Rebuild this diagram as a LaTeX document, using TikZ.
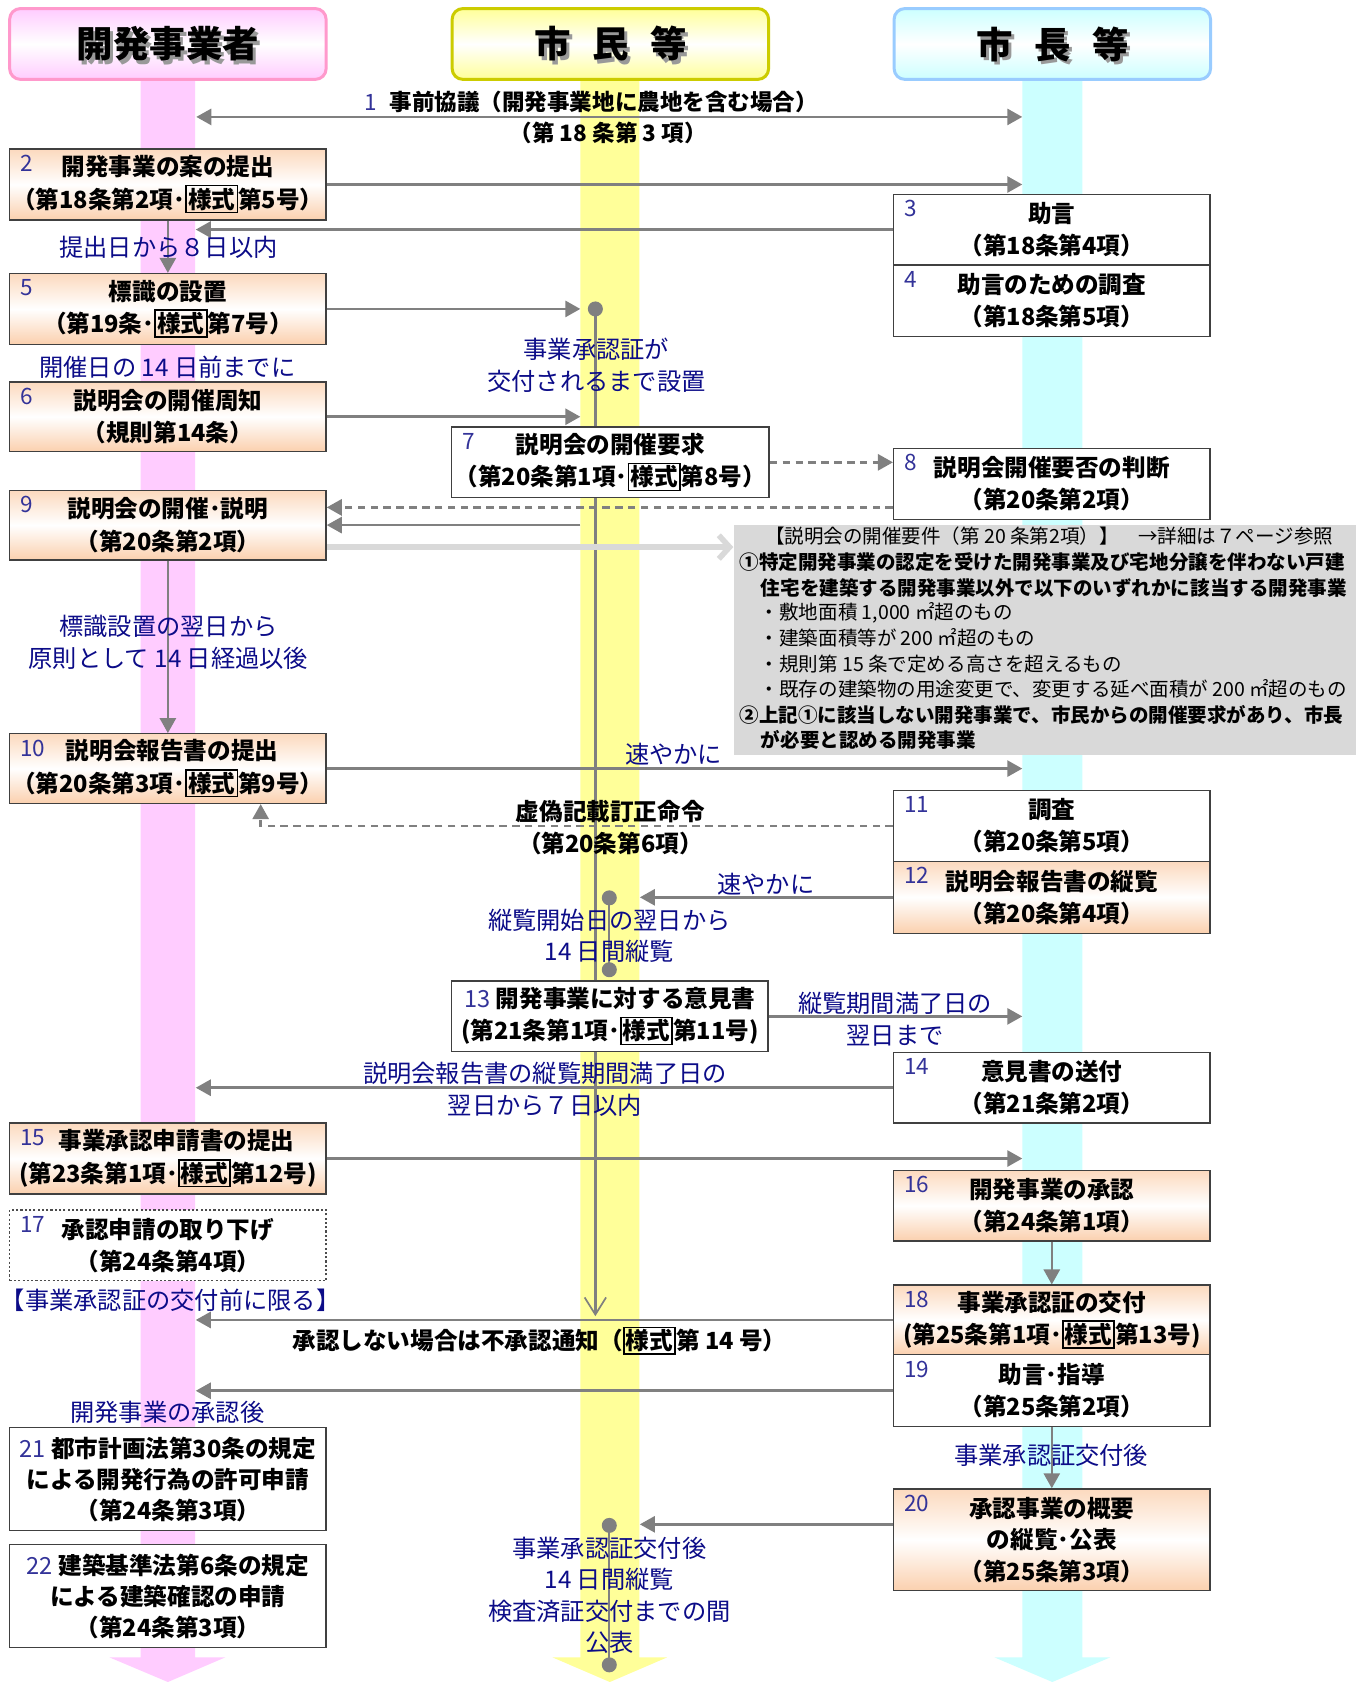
\documentclass[tikz,border=0pt]{standalone}
\usepackage{fontspec}
\setmainfont{Noto Sans CJK JP}
\usetikzlibrary{arrows.meta}
\definecolor{lanepink}{HTML}{FFCCFF}
\definecolor{laneyel}{HTML}{FFFF99}
\definecolor{lanecyan}{HTML}{CCFFFF}
\definecolor{bdpink}{HTML}{FF99CC}
\definecolor{bdyel}{HTML}{CCCC00}
\definecolor{bdcyan}{HTML}{99CCFF}
\definecolor{peach}{HTML}{FBD0AE}
\definecolor{arrgray}{HTML}{808080}
\definecolor{lblblue}{HTML}{0C0C88}
\definecolor{numblue}{HTML}{333399}
\definecolor{infogray}{HTML}{D9D9D9}
\setlength{\fboxsep}{0.6pt}
\setlength{\fboxrule}{0.8pt}
\newcommand{\ysk}{\fbox{様式}}
\newcommand{\nb}[1]{{\color{numblue}\mdseries #1}}
\pgfdeclarelayer{lanes}
\pgfdeclarelayer{links}
\pgfsetlayers{lanes,links,main}
\begin{document}
\begin{tikzpicture}[x=0.5pt,y=-0.5pt,
  hdr/.style={line width=1.4pt, rounded corners=5pt, minimum width=147.5pt, minimum height=33pt, inner sep=0pt},
  hdrtxt/.style={font=\fontsize{17}{20}\selectfont\bfseries, inner sep=0pt},
  bx/.style={draw=black!75, line width=0.6pt, minimum width=147.5pt, minimum height=33pt, inner sep=0pt, align=center, font=\fontsize{11}{15}\selectfont\bfseries},
  pbx/.style={bx, top color=peach!80!white, bottom color=peach, middle color=white},
  wbx/.style={bx, fill=white},
  num/.style={anchor=north west, text=numblue, font=\fontsize{10.5}{12}\selectfont, inner sep=0pt},
  conn/.style={draw=arrgray, line width=1.2pt, -{Triangle[length=7pt,width=7.5pt]}},
  conn2/.style={draw=arrgray, line width=1.2pt, {Triangle[length=7pt,width=7.5pt]}-{Triangle[length=7pt,width=7.5pt]}},
  dconn/.style={conn, dash pattern=on 3.5pt off 2.5pt},
  plain/.style={draw=arrgray, line width=1.1pt},
  lbl/.style={text=lblblue, font=\fontsize{11.3}{15}\selectfont, align=center, inner sep=0pt},
  blk/.style={font=\fontsize{11}{15}\selectfont\bfseries, align=center, inner sep=0pt},
  dotn/.style={circle, fill=arrgray, minimum size=7pt, inner sep=0pt},
  infol/.style={anchor=west, inner sep=0pt, font=\fontsize{9.1}{11}\selectfont},
  infob/.style={infol, font=\fontsize{9.1}{11}\selectfont\bfseries},
]
\useasboundingbox (0,0) rectangle (1274,1568);
\begin{pgfonlayer}{lanes}
\fill[white] (0,0) rectangle (1274,1568);
\fill[lanepink] (131,60) -- (131,1545) -- (102,1545) -- (156.5,1568) -- (210,1545) -- (182,1545) -- (182,60) -- cycle;
\fill[laneyel] (541,60) -- (541,1545) -- (515,1545) -- (568.5,1568) -- (622,1545) -- (596,1545) -- (596,60) -- cycle;
\fill[lanecyan] (953,60) -- (953,1545) -- (927,1545) -- (981,1568) -- (1035,1545) -- (1009,1545) -- (1009,60) -- cycle;
\end{pgfonlayer}

% headers
\node[hdr, draw=bdpink, top color=lanepink, bottom color=lanepink, middle color=white] (h1) at (156.5,41) {};
\node[hdr, draw=bdyel, top color=laneyel, bottom color=laneyel, middle color=white] (h2) at (569,41) {};
\node[hdr, draw=bdcyan, top color=lanecyan, bottom color=lanecyan, middle color=white] (h3) at (981,41) {};
\node[hdrtxt, text=black!40] (h1s) at ([xshift=1.5pt,yshift=-1.5pt]h1.center) {開発事業者};
\node[hdrtxt] (h1t) at (h1.center) {開発事業者};
\node[hdrtxt, text=black!40] (h2s) at ([xshift=1.5pt,yshift=-1.5pt]h2.center) {市\hspace{10pt}民\hspace{10pt}等};
\node[hdrtxt] (h2t) at (h2.center) {市\hspace{10pt}民\hspace{10pt}等};
\node[hdrtxt, text=black!40] (h3s) at ([xshift=1.5pt,yshift=-1.5pt]h3.center) {市\hspace{10pt}長\hspace{10pt}等};
\node[hdrtxt] (h3t) at (h3.center) {市\hspace{10pt}長\hspace{10pt}等};

% left column
\node[pbx] (b2) at (156.5,172) {開発事業の案の提出\\（第18条第2項･\ysk 第5号）};
\node[pbx] (b5) at (156.5,288) {標識の設置\\（第19条･\ysk 第7号）};
\node[pbx, minimum height=32.5pt] (b6) at (156.5,388.5) {説明会の開催周知\\（規則第14条）};
\node[pbx, minimum height=32.5pt] (b9) at (156.5,489.5) {説明会の開催･説明\\（第20条第2項）};
\node[pbx, minimum height=32.5pt] (b10) at (156.5,716.5) {\hspace*{4pt}説明会報告書の提出\\（第20条第3項･\ysk 第9号）};
\node[pbx] (b15) at (156.5,1080) {\hspace*{8pt}事業承認申請書の提出\\(第23条第1項･\ysk 第12号)};
\node[bx, fill=white, draw=black!70, dash pattern=on 1pt off 1pt] (b17) at (156.5,1161) {承認申請の取り下げ\\（第24条第4項）};
\node[wbx, minimum height=48pt, font=\fontsize{11}{14.5}\selectfont\bfseries] (b21) at (156.5,1379) {\nb{21} 都市計画法第30条の規定\\による開発行為の許可申請\\（第24条第3項）};
\node[wbx, minimum height=48pt, font=\fontsize{11}{14.5}\selectfont\bfseries] (b22) at (156.5,1488) {\nb{22} 建築基準法第6条の規定\\による建築確認の申請\\（第24条第3項）};

% middle column
\node[wbx, minimum width=148pt] (b7) at (569,431) {説明会の開催要求\\（第20条第1項･\ysk 第8号）};
\node[wbx] (b13) at (568.5,947.5) {\nb{13} 開発事業に対する意見書\\(第21条第1項･\ysk 第11号)};

% right column
\node[wbx] (b3) at (980.5,214) {助言\\（第18条第4項）};
\node[wbx, minimum height=33.5pt] (b4) at (980.5,280.5) {助言のための調査\\（第18条第5項）};
\node[wbx] (b8) at (980.5,451) {説明会開催要否の判断\\（第20条第2項）};
\node[wbx] (b11) at (980.5,770) {調査\\（第20条第5項）};
\node[pbx, minimum height=33.5pt] (b12) at (980.5,836.5) {説明会報告書の縦覧\\（第20条第4項）};
\node[wbx] (b14) at (980.5,1014) {意見書の送付\\（第21条第2項）};
\node[pbx] (b16) at (980.5,1124) {開発事業の承認\\（第24条第1項）};
\node[pbx, minimum height=32.5pt] (b18) at (980.5,1230.5) {事業承認証の交付\\(第25条第1項･\ysk 第13号)};
\node[wbx, minimum height=33.5pt] (b19) at (980.5,1296.5) {助言･指導\\（第25条第2項）};
\node[pbx, minimum height=47.5pt, font=\fontsize{11}{14.75}\selectfont\bfseries] (b20) at (980.5,1435.5) {承認事業の概要\\の縦覧･公表\\（第25条第3項）};

% numbers
\foreach \b/\t in {b2/2,b5/5,b6/6,b9/9,b10/10,b15/15,b17/17,b7/7,b3/3,b4/4,b8/8,b11/11,b12/12,b14/14,b16/16,b18/18,b19/19,b20/20}{
  \node[num] (n\t) at ([xshift=5pt,yshift=-3pt]\b.north west) {\t};
}

% info box
\node[fill=infogray, minimum width=290pt, minimum height=107.5pt, inner sep=0pt] (gbox) at (974,596.5) {};
\node[infol, anchor=center] (g1) at (978,500) {【説明会の開催要件（第 20 条第2項）】　→詳細は７ページ参照};
\node[infob] (g2) at (689,524) {①特定開発事業の認定を受けた開発事業及び宅地分譲を伴わない戸建};
\node[infob] (g3) at (709,548) {住宅を建築する開発事業以外で以下のいずれかに該当する開発事業};
\node[infol] (g4) at (708,571) {・敷地面積 1,000 ㎡超のもの};
\node[infol] (g5) at (708,595) {・建築面積等が 200 ㎡超のもの};
\node[infol] (g6) at (708,619) {・規則第 15 条で定める高さを超えるもの};
\node[infol] (g7) at (708,642) {・既存の建築物の用途変更で、変更する延べ面積が 200 ㎡超のもの};
\node[infob] (g8) at (689,666) {②上記①に該当しない開発事業で、市民からの開催要求があり、市長};
\node[infob] (g9) at (709,690) {が必要と認める開発事業};

% dots
\node[dotn] (d1) at (555,288) {};
\node[dotn] (d2) at (568,837) {};
\node[dotn] (d3) at (568,904) {};
\node[dotn] (d4) at (568,1422) {};
\node[dotn] (d5) at (568,1552) {};

% labels
\node[blk, font=\fontsize{10.5}{14}\selectfont\bfseries] (t0a) at (551,95) {\nb{1}\hspace{6pt}事前協議（開発事業地に農地を含む場合）};
\node[blk, font=\fontsize{10.5}{14}\selectfont\bfseries] (t0b) at (567,124) {（第 18 条第 3 項）};
\node[lbl] (t1) at (157,231) {提出日から８日以内};
\node[lbl] (t2) at (556,340.5) {事業承認証が\\交付されるまで設置};
\node[lbl] (t3) at (156,342) {開催日の 14 日前までに};
\node[lbl] (t4) at (157,598.5) {標識設置の翌日から\\原則として 14 日経過以後};
\node[lbl] (t5) at (628,703) {速やかに};
\node[blk] (t6) at (569,771.5) {虚偽記載訂正命令\\（第20条第6項）};
\node[lbl] (t7) at (714,824) {速やかに};
\node[lbl, font=\fontsize{11.3}{14.5}\selectfont] (t8) at (568,872.5) {縦覧開始日の翌日から\\14 日間縦覧};
\node[lbl] (t9) at (834.5,950) {縦覧期間満了日の\\翌日まで};
\node[lbl] (t10) at (508,1015.5) {説明会報告書の縦覧期間満了日の\\翌日から７日以内};
\node[lbl] (t11) at (159,1212) {【事業承認証の交付前に限る】};
\node[blk] (t12) at (503,1250) {承認しない場合は不承認通知（\ysk 第 14 号）};
\node[lbl] (t13) at (156,1317) {開発事業の承認後};
\node[lbl] (t14) at (980,1357) {事業承認証交付後};
\node[lbl, font=\fontsize{11.3}{14.65}\selectfont] (t15) at (568,1487) {事業承認証交付後\\14 日間縦覧\\検査済証交付までの間\\公表};

% connectors
\coordinate (pinkR) at (182.5,0);
\coordinate (yelL) at (541,0);
\coordinate (yelR) at (596.5,0);
\coordinate (cyanL) at (953,0);
\coordinate (a1L) at (183,109);
\coordinate (a1R) at (953,109);
\coordinate (vend) at (555,1227);
\begin{pgfonlayer}{links}
\draw[conn2] (a1L) -- (a1R);
\draw[conn] (b2.east) -- (b2.east -| cyanL);
\draw[conn] (b3.west) -- (b3.west -| pinkR);
\draw[conn] (b2.south) -- (b5.north);
\draw[conn] (b5.east) -- (b5.east -| yelL);
\draw[conn] (b6.east) -- (b6.east -| yelL);
\draw[plain, -{Straight Barb[length=8pt,width=10pt,line width=0.8pt]}] (d1.center) -- (vend);
\draw[dconn] (b7.east) -- (b7.east -| b8.west);
\draw[dconn] ([yshift=-11pt]b8.west) -- ([yshift=-11pt]b8.west -| b9.east);
\draw[conn] (b9.east -| yelL) -- (b9.east);
\draw[draw=infogray, line width=2.6pt, -{Straight Barb[length=5pt,width=11pt]}] ([yshift=-10.25pt]b9.east) -- ([yshift=-10.25pt]b9.east -| gbox.west);
\draw[conn] (b9.south) -- (b10.north);
\draw[conn] (b10.east) -- (b10.east -| cyanL);
\draw[dconn] (b11.west) -| ([xshift=43.25pt]b10.south);
\draw[conn] (b12.west) -- (b12.west -| yelR);
\draw[plain] (d2.center) -- (d3.center);
\draw[conn] (b13.east) -- (b13.east -| cyanL);
\draw[conn] (b14.west) -- (b14.west -| pinkR);
\draw[conn] (b15.east) -- (b15.east -| cyanL);
\draw[conn] (b16.south) -- (b18.north);
\draw[conn] (b18.west) -- (b18.west -| pinkR);
\draw[conn] (b19.west) -- (b19.west -| pinkR);
\draw[conn] (b19.south) -- (b20.north);
\draw[conn] ([yshift=7.25pt]b20.west) -- ([yshift=7.25pt]b20.west -| yelR);
\draw[plain] (d4.center) -- (d5.center);
\end{pgfonlayer}
\end{tikzpicture}
\end{document}
